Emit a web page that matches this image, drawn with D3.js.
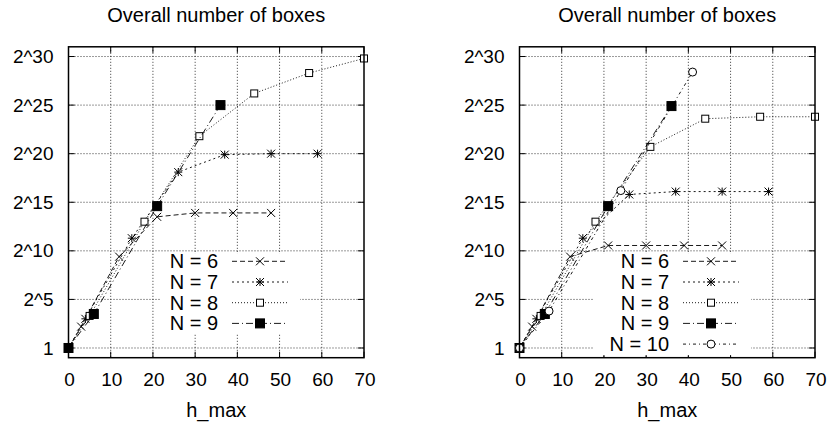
<!DOCTYPE html>
<html>
<head>
<meta charset="utf-8">
<script src="https://cdn.jsdelivr.net/npm/d3@7"></script>
<style>
  body { margin: 0; background: #fff; }
  svg { display: block; font-family: "Liberation Sans", Arial, sans-serif; }
</style>
</head>
<body>
<svg id="chart" width="830" height="424"></svg>
<script>
// h_max values per N (same for both panels)
const hmaxN6 = [0, 3, 12, 21, 30, 39, 48];
const hmaxN7 = [0, 4, 15, 26, 37, 48, 59];
const hmaxN8 = [0, 5, 18, 31, 44, 57, 70];
const hmaxN9 = [0, 6, 21, 36];
const hmaxN10 = [0, 7, 24, 41];

// log2 of the overall number of boxes, left panel
const leftN6 = [0, 2.2, 9.4, 13.5, 13.9, 13.9, 13.9];
const leftN7 = [0, 3.0, 11.3, 18.1, 19.9, 20.0, 20.0];
const leftN8 = [0, 3.3, 13.0, 21.8, 26.2, 28.3, 29.8];
const leftN9 = [0, 3.5, 14.6, 25.0];

// log2 of the overall number of boxes, right panel
const rightN6 = [0, 2.2, 9.4, 10.55, 10.55, 10.55, 10.55];
const rightN7 = [0, 3.0, 11.3, 15.8, 16.1, 16.1, 16.1];
const rightN8 = [0, 3.3, 13.0, 20.7, 23.6, 23.8, 23.8];
const rightN9 = [0, 3.5, 14.6, 24.9];
const rightN10 = [0, 3.8, 16.2, 28.4];

const xTicks = [0, 10, 20, 30, 40, 50, 60, 70];
const yTicks = [0, 5, 10, 15, 20, 25, 30];
const yTickLabels = ['1', '2^5', '2^10', '2^15', '2^20', '2^25', '2^30'];
const titleText = 'Overall number of boxes';
const xLabelText = 'h_max';

// series styles
const styles = {
  6: {label: 'N = 6', dash: '5,3', marker: 'cross'},
  7: {label: 'N = 7', dash: '2,3', marker: 'star'},
  8: {label: 'N = 8', dash: '1,2', marker: 'square'},
  9: {label: 'N = 9', dash: '7,3,1,3', marker: 'filled'},
  10: {label: 'N = 10', dash: '3,3,1,3', marker: 'circle'}
};

function zip(xs, ys) { return xs.map((x, i) => ({x: x, y: ys[i]})); }

const panels = [
  {left: 68.5, series: [
    {n: 6, pts: zip(hmaxN6, leftN6)},
    {n: 7, pts: zip(hmaxN7, leftN7)},
    {n: 8, pts: zip(hmaxN8, leftN8)},
    {n: 9, pts: zip(hmaxN9, leftN9)}
  ]},
  {left: 519.5, series: [
    {n: 6, pts: zip(hmaxN6, rightN6)},
    {n: 7, pts: zip(hmaxN7, rightN7)},
    {n: 8, pts: zip(hmaxN8, rightN8)},
    {n: 9, pts: zip(hmaxN9, rightN9)},
    {n: 10, pts: zip(hmaxN10, rightN10)}
  ]}
];

const W = 295.5, TOP = 46.8, BOTTOM = 357.7;
const svg = d3.select('#chart');

function drawMarker(g, kind, cx, cy) {
  var s = 4;
  if (kind === 'cross' || kind === 'star') {
    g.append('line').attr('x1', cx - s).attr('y1', cy - s).attr('x2', cx + s).attr('y2', cy + s);
    g.append('line').attr('x1', cx - s).attr('y1', cy + s).attr('x2', cx + s).attr('y2', cy - s);
    if (kind === 'star') {
      g.append('line').attr('x1', cx - s).attr('y1', cy).attr('x2', cx + s).attr('y2', cy);
      g.append('line').attr('x1', cx).attr('y1', cy - s).attr('x2', cx).attr('y2', cy + s);
    }
  } else if (kind === 'square') {
    g.append('rect').attr('x', cx - 3.5).attr('y', cy - 3.5).attr('width', 7).attr('height', 7)
      .attr('fill', '#fff');
  } else if (kind === 'filled') {
    g.append('rect').attr('x', cx - 4.5).attr('y', cy - 4.5).attr('width', 9).attr('height', 9)
      .attr('fill', '#000');
  } else if (kind === 'circle') {
    g.append('circle').attr('cx', cx).attr('cy', cy).attr('r', 4).attr('fill', '#fff');
  }
}

panels.forEach(function(p) {
  var x = d3.scaleLinear().domain([0, 70]).range([p.left, p.left + W]);
  var y = d3.scaleLinear().domain([-1, 31]).range([BOTTOM, TOP]);
  var g = svg.append('g');

  // grid
  var grid = g.append('g').attr('stroke', '#000').attr('stroke-width', 0.8)
    .attr('stroke-dasharray', '1,2');
  grid.selectAll('.vg').data(xTicks.slice(1, -1)).enter().append('line')
    .attr('x1', d => x(d)).attr('x2', d => x(d)).attr('y1', TOP).attr('y2', BOTTOM);
  grid.selectAll('.hg').data(yTicks).enter().append('line')
    .attr('y1', d => y(d)).attr('y2', d => y(d)).attr('x1', p.left).attr('x2', p.left + W);

  // axes (ticks inward on all sides, like gnuplot mirror)
  var ax = g.append('g').attr('stroke', '#000').attr('stroke-width', 1);
  xTicks.forEach(function(t) {
    ax.append('line').attr('x1', x(t)).attr('x2', x(t)).attr('y1', BOTTOM).attr('y2', BOTTOM - 6);
    ax.append('line').attr('x1', x(t)).attr('x2', x(t)).attr('y1', TOP).attr('y2', TOP + 6);
  });
  yTicks.forEach(function(t) {
    ax.append('line').attr('x1', p.left).attr('x2', p.left + 6).attr('y1', y(t)).attr('y2', y(t));
    ax.append('line').attr('x1', p.left + W).attr('x2', p.left + W - 6).attr('y1', y(t)).attr('y2', y(t));
  });

  // curves
  var line = d3.line().x(d => x(d.x)).y(d => y(d.y));
  p.series.forEach(function(s) {
    var st = styles[s.n];
    g.append('path').datum(s.pts).attr('d', line).attr('fill', 'none')
      .attr('stroke', '#000').attr('stroke-width', 0.9).attr('stroke-dasharray', st.dash);
    var mg = g.append('g').attr('stroke', '#000').attr('stroke-width', 1);
    s.pts.forEach(d => drawMarker(mg, st.marker, x(d.x), y(d.y)));
  });

  // legend (opaque key)
  var rows = p.series.length;
  var keyRight = p.left + 149.5;   // right edge of text
  var rowY = i => 261.3 + i * 20.7;
  var key = g.append('g');
  key.append('rect')
    .attr('x', keyRight - (rows > 4 ? 76 : 57))
    .attr('y', rowY(0) - 8)
    .attr('width', (rows > 4 ? 76 : 57) + 82)
    .attr('height', rowY(rows - 1) - rowY(0) + 16 + (rows > 4 ? 3 : 2))
    .attr('fill', '#fff');
  p.series.forEach(function(s, i) {
    var st = styles[s.n];
    key.append('text').attr('x', keyRight).attr('y', rowY(i)).attr('dy', '0.35em')
      .attr('text-anchor', 'end').attr('font-size', 20).attr('fill', '#000').text(st.label);
    key.append('line').attr('x1', keyRight + 14).attr('x2', keyRight + 70)
      .attr('y1', rowY(i)).attr('y2', rowY(i))
      .attr('stroke', '#000').attr('stroke-width', 0.9).attr('stroke-dasharray', st.dash);
    var mg = key.append('g').attr('stroke', '#000').attr('stroke-width', 1);
    drawMarker(mg, st.marker, keyRight + 42, rowY(i));
  });

  // frame
  g.append('rect').attr('x', p.left).attr('y', TOP).attr('width', W).attr('height', BOTTOM - TOP)
    .attr('fill', 'none').attr('stroke', '#000').attr('stroke-width', 1.5);

  // tick labels
  g.selectAll('.xl').data(xTicks).enter().append('text')
    .attr('x', d => x(d) + 1).attr('y', 379).attr('dy', '0.35em')
    .attr('text-anchor', 'middle').attr('font-size', 19).text(d => d);
  g.selectAll('.yl').data(yTicks).enter().append('text')
    .attr('x', p.left - 15).attr('y', d => y(d)).attr('dy', '0.35em')
    .attr('text-anchor', 'end').attr('font-size', 19).text((d, i) => yTickLabels[i]);

  // title and x label
  g.append('text').attr('x', p.left + W / 2).attr('y', 15).attr('dy', '0.35em')
    .attr('text-anchor', 'middle').attr('font-size', 20).text(titleText);
  g.append('text').attr('x', p.left + W / 2).attr('y', 410).attr('dy', '0.35em')
    .attr('text-anchor', 'middle').attr('font-size', 20).text(xLabelText);
});
</script>
</body>
</html>
